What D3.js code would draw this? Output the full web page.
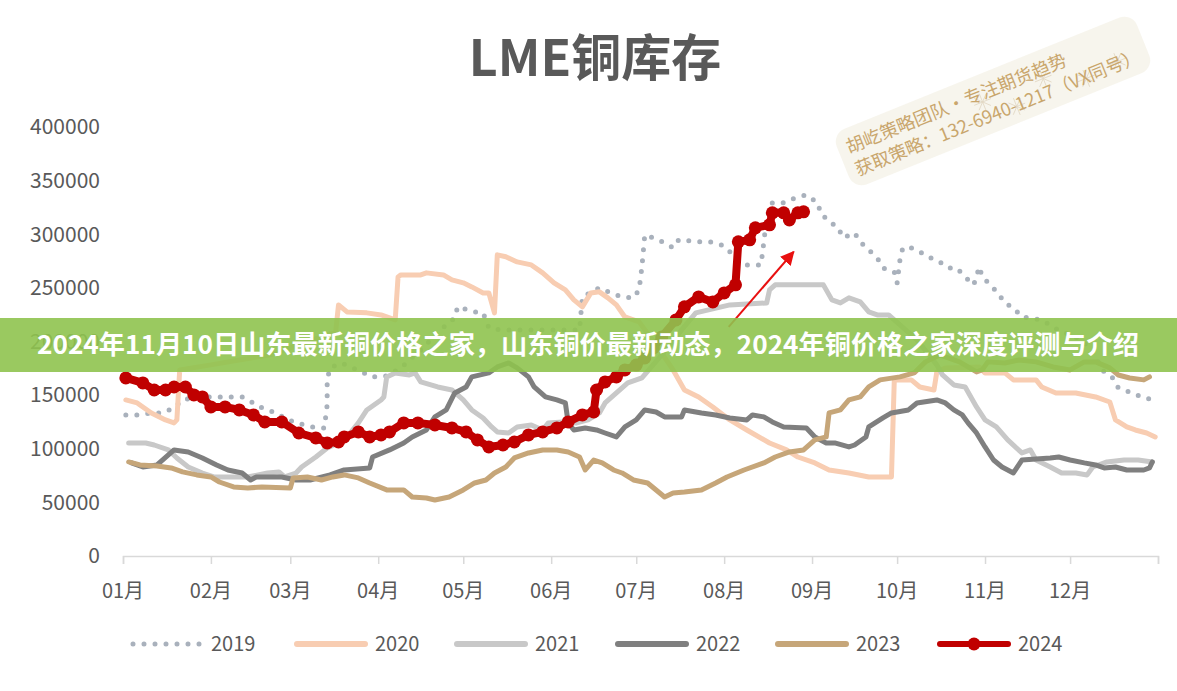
<!DOCTYPE html>
<html><head><meta charset="utf-8">
<script src="https://cdn.jsdelivr.net/npm/d3@7"></script>
<style>body{margin:0;background:#fff}svg{display:block}</style>
</head><body>
<svg id="c" width="1177" height="691"></svg>
<script>
// ---------- data ----------
const title = "LME铜库存";
const monthLabels = ["01月","02月","03月","04月","05月","06月","07月","08月","09月","10月","11月","12月"];
const monthStarts = [0,31,59,90,120,151,181,212,243,273,304,334,365];
const yTicks = [0,50000,100000,150000,200000,250000,300000,350000,400000];
const years = ["2019","2020","2021","2022","2023","2024"];

// [day of year, tonnes]
const s2019 = [[1,131500],[5,131500],[10,133400],[14,133400],[18,138100],[21,145500],[27,148300],[34,148300],[42,148300],[46,142700],[49,138100],[54,133400],[57,128700],[61,124100],[67,120300],[71,119400],[72,140900],[72,164200],[73,175400],[77,180000],[81,175400],[85,170700],[88,167000],[93,167900],[98,175400],[105,192200],[112,210800],[117,222000],[118,232300],[124,227600],[127,226700],[129,212700],[133,210800],[144,210800],[154,210800],[161,210800],[162,241600],[168,250000],[172,245300],[176,241600],[180,240700],[182,248100],[183,269600],[184,299400],[187,296600],[191,292000],[194,287300],[196,294800],[203,292900],[207,292900],[211,290100],[214,283600],[220,271400],[225,271400],[226,292900],[227,316200],[229,329300],[233,329300],[237,333900],[241,336700],[245,329300],[246,320000],[249,311600],[252,306900],[254,296600],[258,301300],[260,292900],[263,285400],[266,278000],[268,268600],[272,264900],[273,254700],[274,276100],[275,287300],[278,287300],[281,283600],[284,278900],[288,274200],[291,268600],[294,268600],[297,260200],[300,252800],[302,269600],[303,260200],[306,252800],[309,243500],[311,236000],[314,231300],[317,222900],[324,220100],[328,213600],[331,208900],[335,206100],[339,198700],[342,189400],[346,171600],[349,166000],[351,156700],[356,152000],[360,147400],[364,145500]];

const s2020 = [[1,145500],[5,142700],[10,133400],[15,126900],[18,124100],[19,126900],[20,173500],[31,178200],[41,182800],[52,187500],[62,196800],[75,209000],[76,234100],[79,227600],[86,226700],[91,224800],[96,220100],[97,260200],[98,262100],[105,262100],[107,264000],[113,262100],[116,257500],[120,254700],[123,250900],[127,245300],[129,245300],[131,226700],[132,280800],[135,279000],[139,274200],[144,271400],[148,264000],[152,254700],[156,248100],[159,238800],[162,232300],[165,245300],[168,246300],[171,240700],[174,234100],[177,222900],[182,218300],[188,196800],[194,173500],[198,154800],[203,148300],[208,139000],[214,126900],[220,117500],[228,105400],[234,98900],[238,92300],[244,86800],[249,80200],[256,77400],[263,73700],[268,73700],[271,73700],[272,164200],[278,164200],[281,157600],[286,154800],[287,171600],[290,175400],[302,176300],[304,170700],[311,170700],[314,164200],[322,164200],[324,157600],[329,152000],[336,152000],[343,148300],[348,143600],[350,126900],[354,120300],[357,117500],[361,114700],[364,111000]];

const s2021 = [[2,105400],[8,105400],[11,103500],[16,98900],[19,91400],[23,83000],[28,77400],[32,73700],[44,73700],[51,77400],[55,78400],[57,73700],[61,77400],[63,83000],[68,92300],[72,100700],[76,105400],[79,111000],[83,124100],[86,136200],[91,145500],[92,148300],[93,167000],[96,170700],[101,168800],[103,170700],[105,162300],[111,157600],[116,154800],[120,145500],[123,136200],[127,128700],[130,120300],[132,115700],[136,114700],[139,120300],[144,122200],[148,117500],[150,124100],[155,125000],[160,124100],[164,126900],[168,133400],[170,142700],[174,152000],[178,161400],[183,166000],[190,187500],[197,210800],[202,226700],[214,234100],[227,236000],[228,248100],[230,252800],[247,252800],[250,238800],[253,236000],[256,240700],[258,238800],[260,236900],[263,227600],[266,224800],[270,224800],[272,220100],[280,201500],[287,178200],[289,168800],[293,159500],[297,157600],[301,139000],[304,126900],[308,120300],[312,108200],[317,96100],[320,98900],[322,89500],[327,83000],[331,77400],[336,77400],[340,75600],[342,83000],[347,87700],[353,89500],[358,89500],[363,87700]];

const s2022 = [[3,86800],[7,83000],[12,84900],[16,94200],[18,98900],[23,97000],[28,91400],[33,84900],[37,80200],[42,77400],[45,70900],[47,73700],[56,73700],[61,70900],[66,70900],[73,75600],[78,80200],[87,82100],[88,92300],[94,98900],[99,105400],[102,111000],[107,117500],[110,129700],[114,136200],[117,152000],[121,157600],[123,167000],[129,170700],[132,176300],[136,180000],[139,175400],[143,167000],[145,157600],[149,148300],[153,145500],[156,142700],[157,124100],[159,117500],[163,119400],[167,117500],[170,114700],[174,111000],[177,120300],[181,126900],[184,136200],[188,134300],[191,129700],[197,129700],[198,136200],[204,133400],[209,131500],[214,128700],[220,126900],[222,131500],[226,129700],[229,125000],[233,120300],[241,119400],[244,111000],[248,105400],[251,105400],[256,101700],[258,103500],[262,111000],[263,120300],[268,128700],[271,133400],[277,136200],[280,142700],[287,145500],[290,142700],[293,136200],[296,131500],[298,124100],[301,114700],[304,101700],[307,89500],[310,83000],[314,77400],[317,89500],[327,91400],[330,92300],[334,89500],[339,86800],[343,84900],[346,82100],[350,83000],[354,80200],[360,80200],[362,82100],[363,87700]];

const s2023 = [[2,87700],[6,84900],[12,84000],[17,82100],[21,78400],[26,75600],[31,73700],[34,69000],[39,64400],[44,63400],[49,64400],[59,63400],[60,72800],[65,73700],[70,70900],[74,73700],[78,75600],[83,72800],[87,68100],[93,61600],[99,61600],[102,55000],[107,54100],[110,52200],[115,55000],[120,61600],[124,68100],[128,70900],[131,77400],[135,83000],[138,91400],[143,96100],[148,98900],[153,98900],[157,97000],[161,92300],[163,80200],[166,89500],[169,86800],[173,80200],[176,77400],[180,70900],[185,68100],[191,55000],[194,58800],[198,59700],[204,61600],[209,68100],[213,73700],[219,80200],[226,86800],[230,92300],[235,97000],[240,98900],[244,108200],[248,111000],[249,133400],[253,136200],[256,145500],[260,148300],[263,157600],[267,164200],[274,167000],[279,170700],[283,181000],[288,187500],[295,181000],[301,171600],[303,173500],[305,181000],[311,180000],[316,182800],[322,181000],[328,176300],[334,173500],[339,181000],[343,181000],[348,175400],[351,168800],[355,166000],[360,164200],[362,167000]];

const s2024 = [[1,166000],[7,161400],[11,154800],[15,154800],[18,157600],[22,157600],[25,150200],[28,148300],[31,139000],[36,139000],[41,136200],[46,131500],[50,125000],[56,125000],[62,114700],[68,110100],[72,105400],[76,106300],[78,111000],[83,115700],[87,111000],[91,112900],[94,115700],[99,124100],[104,124100],[110,122200],[116,119400],[121,115700],[125,108200],[129,101700],[134,103500],[138,106300],[143,112900],[148,115700],[153,119400],[157,125000],[162,131500],[166,134300],[167,154800],[170,162300],[174,167000],[177,173500],[181,178000],[184,184700],[187,194000],[190,204300],[195,220100],[198,232300],[203,241600],[208,236900],[212,245300],[216,252800],[217,292900],[221,294800],[223,306000],[228,308800],[229,320000],[233,320000],[235,313400],[238,320000],[240,320900]];

const arrowFrom = [213.6, 213600];
const arrowTo = [236.5, 283600];

const bannerText = "2024年11月10日山东最新铜价格之家，山东铜价最新动态，2024年铜价格之家深度评测与介绍";
const wmLine1 = "胡屹策略团队·专注期货趋势";
const wmLine2 = "获取策略：132-6940-1217（VX同号）";

// ---------- drawing ----------
const FONT = "'Noto Sans CJK SC','Microsoft YaHei',sans-serif";
const svg = d3.select("#c");
const x = d3.scaleLinear().domain([0,365]).range([123,1158]);
const y = d3.scaleLinear().domain([0,400000]).range([556,127]);

const styles = {
  "2019": {color:"#a9b1bc", width:5, dash:"0,11"},
  "2020": {color:"#f8cdb2", width:5},
  "2021": {color:"#c8c8c8", width:5},
  "2022": {color:"#7f7f7f", width:5},
  "2023": {color:"#c6a679", width:5},
  "2024": {color:"#c00000", width:8, marker:true}
};
const seriesData = {"2019":s2019,"2020":s2020,"2021":s2021,"2022":s2022,"2023":s2023,"2024":s2024};

// title
svg.append("text").attr("x",595).attr("y",76).attr("text-anchor","middle")
  .attr("font-family",FONT).attr("font-weight","bold").attr("font-size",50)
  .attr("fill","#595959").text(title);

// y axis labels
svg.append("g").selectAll("text").data(yTicks).join("text")
  .attr("x",100).attr("y",d=>y(d)).attr("dy","0.35em").attr("text-anchor","end")
  .attr("font-family",FONT).attr("font-size",21).attr("fill","#595959").text(d=>d);

// x axis
const xAxis = d3.axisBottom(x).tickValues(monthStarts).tickSize(8).tickFormat("");
const gx = svg.append("g").attr("transform","translate(0,556)").call(xAxis);
gx.select(".domain").attr("stroke","#d9d9d9").attr("stroke-width",1.5);
gx.selectAll(".tick line").attr("stroke","#d9d9d9").attr("stroke-width",1.5);
svg.append("g").selectAll("text").data(monthLabels).join("text")
  .attr("x",(d,i)=>x(monthStarts[i])).attr("y",591).attr("dy","0.35em")
  .attr("text-anchor","middle").attr("font-family",FONT).attr("font-size",20)
  .attr("fill","#595959").text(d=>d);

// lines
const line = d3.line().x(d=>x(d[0])).y(d=>y(d[1]));
const gl = svg.append("g");
years.forEach(yr=>{
  const st = styles[yr];
  const p = gl.append("path").datum(seriesData[yr]).attr("d",line)
    .attr("fill","none").attr("stroke",st.color).attr("stroke-width",st.width)
    .attr("stroke-linejoin","round").attr("stroke-linecap","round");
  if (st.dash) p.attr("stroke-dasharray",st.dash);
  if (st.marker) {
    gl.append("g").selectAll("circle").data(seriesData[yr]).join("circle")
      .attr("cx",d=>x(d[0])).attr("cy",d=>y(d[1])).attr("r",6.5).attr("fill",st.color);
  }
});

// arrow annotation
const defs = svg.append("defs");
defs.append("marker").attr("id","ah").attr("viewBox","0 0 10 10").attr("refX",9).attr("refY",5)
  .attr("markerWidth",7).attr("markerHeight",7).attr("markerUnits","strokeWidth").attr("orient","auto")
  .append("path").attr("d","M0,0 L10,5 L0,10 Z").attr("fill","#e81010");
svg.append("line").attr("x1",x(arrowFrom[0])).attr("y1",y(arrowFrom[1]))
  .attr("x2",x(arrowTo[0])).attr("y2",y(arrowTo[1]))
  .attr("stroke","#e81010").attr("stroke-width",2).attr("marker-end","url(#ah)");

// watermark
const wm = svg.append("g").attr("transform","translate(993,101) rotate(-22)");
wm.append("rect").attr("x",-162).attr("y",-30).attr("width",324).attr("height",60).attr("rx",14)
  .attr("fill","#f6f3ea").attr("opacity",0.85);
[[-10,-3],[20,14],[55,-2],[95,14],[130,10]].forEach(([sx,sy])=>{
  const s = wm.append("g").attr("transform",`translate(${sx},${sy})`).attr("stroke","#e2d8c4").attr("stroke-width",0.8);
  [0,45,90,135].forEach(a=>s.append("line").attr("x1",-9).attr("x2",9).attr("y1",0).attr("y2",0).attr("transform",`rotate(${a})`));
});
wm.append("text").attr("x",-153).attr("y",-5).attr("font-family",FONT).attr("font-size",18)
  .attr("fill","#c9a66c").attr("textLength",236).attr("lengthAdjust","spacingAndGlyphs").text(wmLine1);
wm.append("text").attr("x",-153).attr("y",19).attr("font-family",FONT).attr("font-size",18)
  .attr("fill","#c9a66c").attr("textLength",306).attr("lengthAdjust","spacingAndGlyphs").text(wmLine2);

// legend
const legX = [131,295,455,616,776,938];
const lg = svg.append("g");
years.forEach((yr,i)=>{
  const st = styles[yr];
  const l = lg.append("line").attr("x1",legX[i]+2).attr("x2",legX[i]+70).attr("y1",644).attr("y2",644)
    .attr("stroke",st.color).attr("stroke-width",6).attr("stroke-linecap","round");
  if (st.dash) l.attr("stroke-dasharray","0,11").attr("stroke-width",5);
  if (st.marker) lg.append("circle").attr("cx",legX[i]+36).attr("cy",644).attr("r",6.5).attr("fill",st.color);
  lg.append("text").attr("x",legX[i]+80).attr("y",644).attr("dy","0.35em")
    .attr("font-family",FONT).attr("font-size",20).attr("fill","#595959").text(yr);
});

// banner overlay
svg.append("rect").attr("x",0).attr("y",318).attr("width",1177).attr("height",54)
  .attr("fill","#8fc34f").attr("opacity",0.9);
svg.append("text").attr("x",588).attr("y",345).attr("dy","0.35em").attr("text-anchor","middle")
  .attr("font-family",FONT).attr("font-weight","bold").attr("font-size",26).attr("fill","#ffffff")
  .attr("textLength",1102).attr("lengthAdjust","spacingAndGlyphs").text(bannerText);
</script>
</body></html>
